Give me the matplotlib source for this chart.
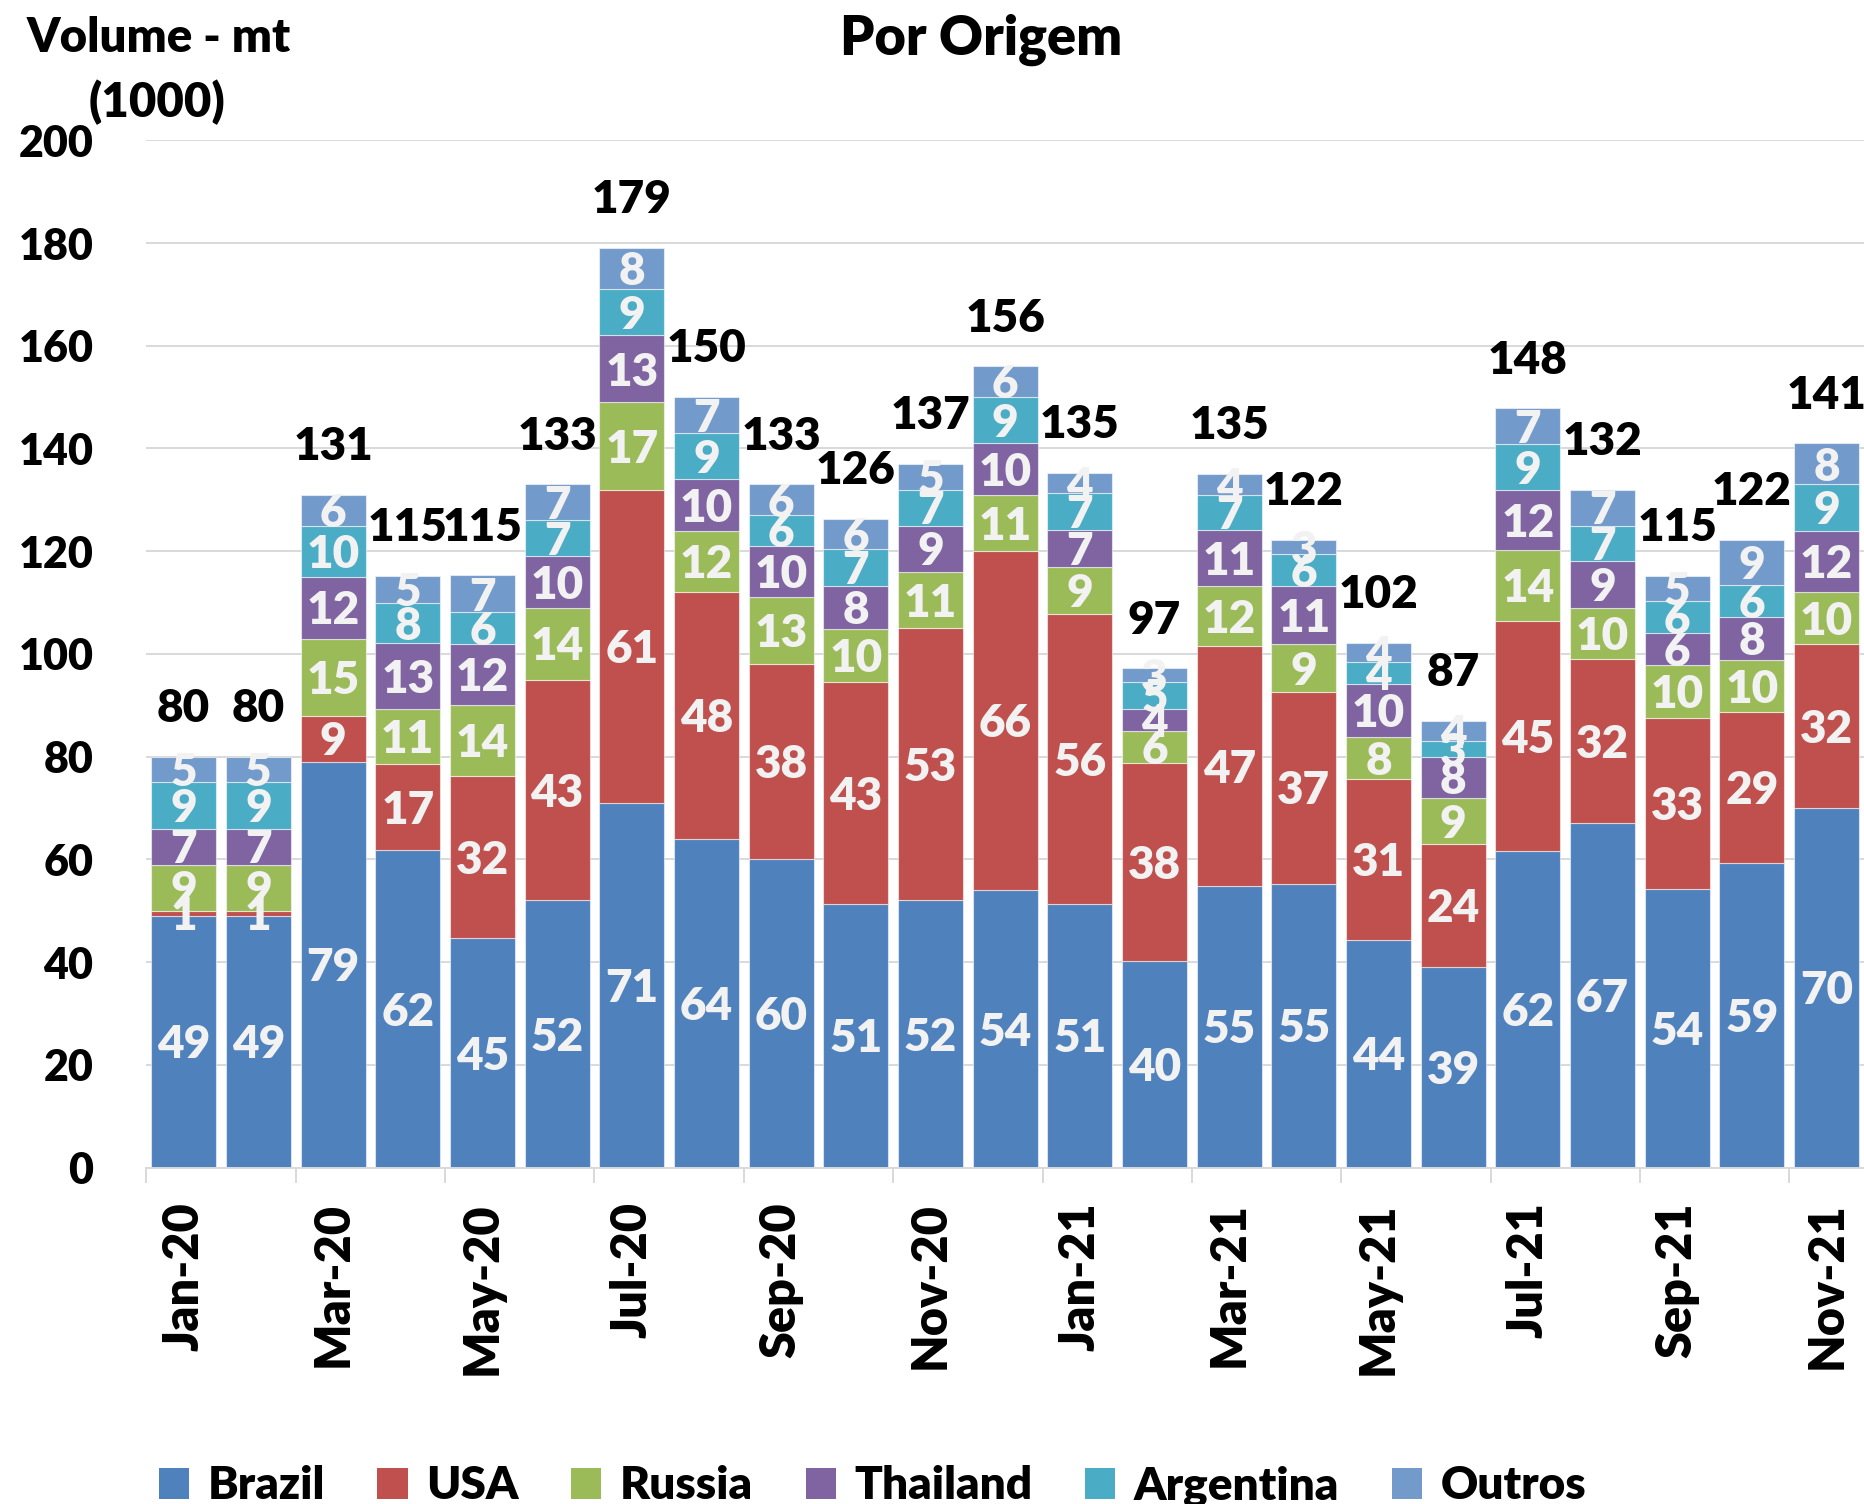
import matplotlib
matplotlib.use('Agg')
import matplotlib.pyplot as plt
from matplotlib.patches import Patch
import numpy as np

plt.rcParams['font.family'] = ['Lato', 'DejaVu Sans']
W = 'heavy'

months = ['Jan-20', 'Feb-20', 'Mar-20', 'Apr-20', 'May-20', 'Jun-20', 'Jul-20', 'Aug-20',
          'Sep-20', 'Oct-20', 'Nov-20', 'Dec-20', 'Jan-21', 'Feb-21', 'Mar-21', 'Apr-21',
          'May-21', 'Jun-21', 'Jul-21', 'Aug-21', 'Sep-21', 'Oct-21', 'Nov-21']

brazil    = [49, 49, 79, 61.8, 44.6, 52, 71, 64, 60, 51.3, 52, 54, 51.4, 40.3, 54.8, 55.3, 44.3, 39, 61.7, 67, 54.3, 59.3, 70]
usa       = [1, 1, 9, 16.7, 31.7, 43, 61, 48, 38, 43.3, 53, 66, 56.3, 38.4, 46.7, 37.3, 31.3, 24, 44.7, 32, 33.3, 29.3, 32]
russia    = [9, 9, 15, 10.8, 13.8, 14, 17, 12, 13, 10.3, 11, 11, 9.2, 6.3, 11.8, 9.3, 8.3, 9, 13.8, 10, 10.2, 10.3, 10]
thailand  = [7, 7, 12, 12.8, 11.8, 10, 13, 10, 10, 8.3, 9, 10, 7.3, 4.3, 10.8, 11.3, 10.3, 8, 11.8, 9, 6.3, 8.3, 12]
argentina = [9, 9, 10, 7.8, 6.2, 7, 9, 9, 6, 7.2, 7, 9, 7.2, 5.2, 6.8, 6.2, 4.2, 3, 8.8, 7, 6.2, 6.2, 9]
outros    = [5, 5, 6, 5.3, 7.2, 7, 8, 7, 6, 5.9, 5, 6, 3.8, 2.7, 4.1, 2.8, 3.8, 4, 7.0, 7, 4.9, 8.8, 8]
totals    = [80, 80, 131, 115, 115, 133, 179, 150, 133, 126, 137, 156, 135, 97, 135, 122, 102, 87, 148, 132, 115, 122, 141]

series_names = ['Brazil', 'USA', 'Russia', 'Thailand', 'Argentina', 'Outros']
series_vals = [brazil, usa, russia, thailand, argentina, outros]
colors = ['#4F81BD', '#C0504D', '#9BBB59', '#8064A2', '#4BACC6', '#729ACA']

fig = plt.figure(figsize=(18.64, 15.04), dpi=100)
ax = fig.add_axes([0.0785, 0.2237, 0.9215, 0.683])

x = np.arange(len(months))
bottom = np.zeros(len(months))
for name, vals, c in zip(series_names, series_vals, colors):
    vals = np.array(vals, dtype=float)
    ax.bar(x, vals, 0.87, bottom=bottom, color=c, edgecolor=(1, 1, 1, 0.55),
           linewidth=0.8, label=name, zorder=2)
    for xi, b, v in zip(x, bottom, vals):
        ax.annotate(f'{int(round(v))}', xy=(xi, b + v / 2), xytext=(0, -12),
                    textcoords='offset points', ha='center', va='baseline',
                    color='#F2F2F2', fontsize=33, fontweight=W, zorder=3)
    bottom = bottom + vals

for xi, t, tot in zip(x, bottom, totals):
    ax.annotate(str(tot), xy=(xi, t), xytext=(0, 25), textcoords='offset points',
                ha='center', va='baseline', fontsize=33, fontweight=W,
                color='black', zorder=4, annotation_clip=False)

ax.set_xlim(-0.5, 22.5)
ax.set_ylim(0, 200)
ax.set_yticks(range(0, 201, 20))
ax.tick_params(axis='y', length=0, pad=38, labelsize=31)
for lab in ax.get_yticklabels():
    lab.set_fontweight(W)

ax.set_xticks(x[::2])
ax.set_xticklabels(months[::2], rotation=90, fontsize=35, fontweight=W)
ax.tick_params(axis='x', which='major', length=0, pad=25)
ax.set_xticks(np.arange(-0.5, 22, 2), minor=True)
ax.tick_params(axis='x', which='minor', length=11, width=1.4, color='#D9D9D9')

ax.grid(axis='y', color='#D9D9D9', linewidth=1.4, zorder=0)
ax.set_axisbelow(True)
for s in ['left', 'top', 'right']:
    ax.spines[s].set_visible(False)
ax.spines['bottom'].set_color('#D9D9D9')
ax.spines['bottom'].set_linewidth(1.4)

fig.text(0.5266, 0.9634, 'Por Origem', ha='center', va='baseline', fontsize=39, fontweight=W)
fig.text(0.0849, 0.9654, 'Volume - mt', ha='center', va='baseline', fontsize=34, fontweight=W)
fig.text(0.0843, 0.9222, '(1000)', ha='center', va='baseline', fontsize=34, fontweight=W)

handles = [Patch(facecolor=c) for c in colors]
fig.legend(handles, series_names, loc='center', bbox_to_anchor=(0.468, 0.012), ncol=6,
           frameon=False, prop={'weight': W, 'size': 33}, handlelength=0.66,
           handleheight=0.66, handletextpad=0.4, columnspacing=1.15, borderpad=0)

fig.savefig('out.png', dpi=100)
